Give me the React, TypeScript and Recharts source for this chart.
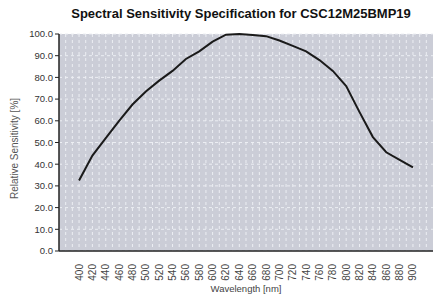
import { LineChart, Line, XAxis, YAxis, CartesianGrid } from "recharts";

const wavelengths = [400, 420, 440, 460, 480, 500, 520, 540, 560, 580, 600, 620, 640, 660, 680, 700, 720, 740, 760, 780, 800, 820, 840, 860, 880, 900];
const sensitivity = [32.5, 44, 52, 60, 67.5, 73.5, 78.5, 83, 88.5, 92, 96.5, 99.7, 100, 99.5, 99, 97, 94.5, 92, 88, 83, 76, 64, 52.5, 45.5, 42, 38.5];
const yTicks = [0, 10, 20, 30, 40, 50, 60, 70, 80, 90, 100];
const boundaryTicks = [390, 410, 430, 450, 470, 490, 510, 530, 550, 570, 590, 610, 630, 650, 670, 690, 710, 730, 750, 770, 790, 810, 830, 850, 870, 890, 910];
const gridTicks = [380, 390, 400, 410, 420, 430, 440, 450, 460, 470, 480, 490, 500, 510, 520, 530, 540, 550, 560, 570, 580, 590, 600, 610, 620, 630, 640, 650, 660, 670, 680, 690, 700, 710, 720, 730, 740, 750, 760, 770, 780, 790, 800, 810, 820, 830, 840, 850, 860, 870, 880, 890, 900, 910, 920];

const data = wavelengths.map((w, i) => ({ w, v: sensitivity[i] }));

const FONT = '"Liberation Sans", Arial, sans-serif';

function RotatedTick({ x, y, payload }: any) {
  return (
    <text x={x} y={y + 5} fill="#444" fontSize={10} fontFamily={FONT}
      textAnchor="end" dominantBaseline="central" transform={`rotate(-90, ${x}, ${y + 5})`}>
      {payload.value}
    </text>
  );
}

// vertical grid every 10 nm, positioned through the x scale
function verticalLines({ xAxis }: any) {
  const s = xAxis && xAxis.scale;
  if (!s) return [];
  return gridTicks.map((t) => (typeof s.map === "function" ? s.map(t) : s(t)));
}

export default function App() {
  return (
    <div style={{ position: "absolute", left: 0, top: 0, width: 433, height: 295, background: "#fff", overflow: "hidden" }}>
      <div style={{ position: "absolute", left: 40, top: 6, width: 402, textAlign: "center", fontFamily: FONT, fontWeight: 700, fontSize: 13, color: "#111" }}>
        Spectral Sensitivity Specification for CSC12M25BMP19
      </div>
      <LineChart width={433} height={295} data={data} margin={{ top: 34, right: 0, bottom: 0, left: 0 }}>
        <CartesianGrid fill="#cbcdd7" stroke="#eceef3" strokeDasharray="3 3" strokeWidth={1}
          verticalCoordinatesGenerator={verticalLines} />
        <XAxis xAxisId="minor" dataKey="w" type="number" domain={[370, 930]} ticks={boundaryTicks}
          height={0} mirror tick={false} axisLine={false} tickSize={4}
          tickLine={{ stroke: "#222", strokeWidth: 1 }} />
        <XAxis dataKey="w" type="number" domain={[370, 930]} ticks={wavelengths} interval={0}
          height={44} tickLine={false} axisLine={{ stroke: "#222", strokeWidth: 1.5 }}
          tick={<RotatedTick />}
          label={{ value: "Wavelength [nm]", position: "insideBottom", offset: 3, fill: "#444", fontSize: 9.5, fontFamily: FONT }} />
        <YAxis domain={[0, 100]} ticks={yTicks} width={59} interval={0}
          tickFormatter={(v: number) => v.toFixed(1)}
          tick={{ fill: "#333", fontSize: 9.5, fontFamily: FONT }}
          tickSize={4} tickLine={{ stroke: "#222" }} axisLine={{ stroke: "#222", strokeWidth: 1.5 }}
          label={{ value: "Relative Sensitivity [%]", angle: -90, position: "insideLeft", offset: 14, dy: 6, fill: "#555", fontSize: 10, fontFamily: FONT, style: { textAnchor: "middle" } }} />
        <Line dataKey="v" type="linear" stroke="#1a1a1a" strokeWidth={2} dot={false} isAnimationActive={false} />
      </LineChart>
    </div>
  );
}
